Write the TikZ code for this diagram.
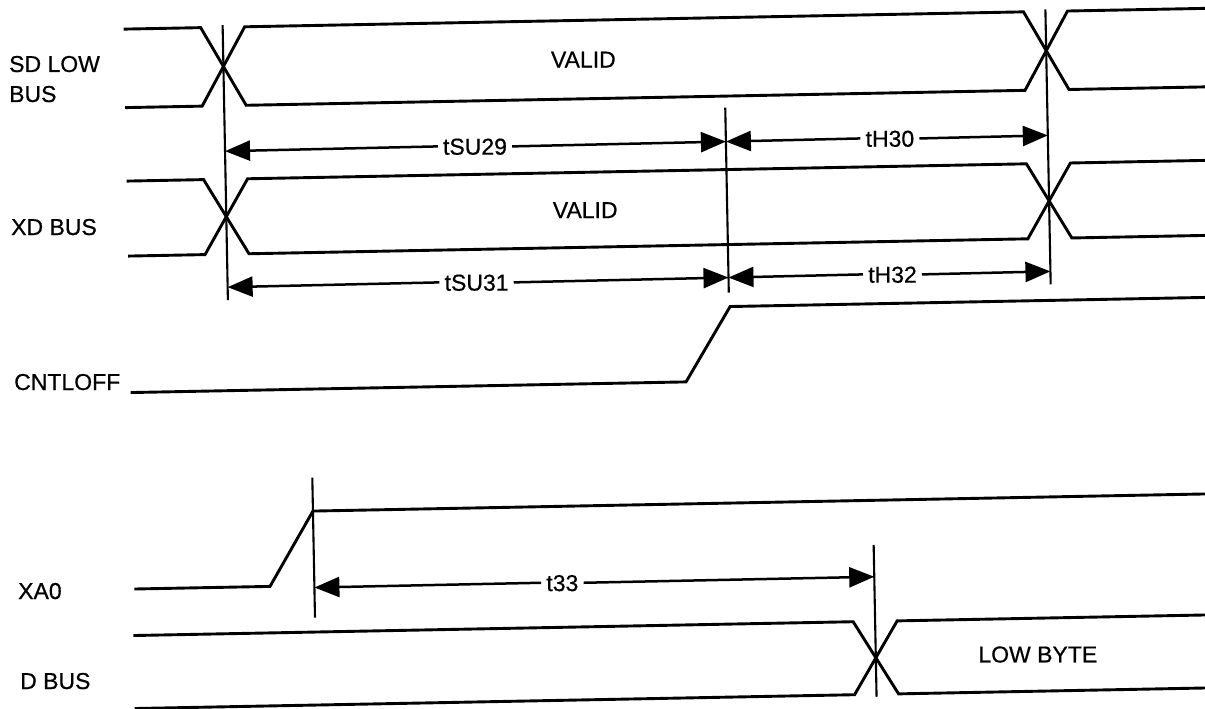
\documentclass[tikz,border=0pt]{standalone}
\usepackage{fontspec}
\setmainfont[BoldFont={Liberation Sans},BoldFeatures={FakeBold=0.6}]{Liberation Sans}
\usetikzlibrary{arrows.meta}
\begin{document}
\begin{tikzpicture}[x=1pt,y=-1pt,
  sig/.style={line width=2.9pt, line join=miter},
  tick/.style={line width=2.1pt},
  dim/.style={line width=2.5pt, -{Triangle[length=25pt,width=20pt]}},
  lab/.style={font=\fontsize{23pt}{27pt}\selectfont\bfseries, inner xsep=5pt, inner ysep=0pt, text height=16.5pt, text depth=0pt},
  sname/.style={font=\fontsize{23pt}{27pt}\selectfont\bfseries, inner sep=0pt, anchor=base west}]
\fill[white] (0,0) rectangle (1205,709);
\useasboundingbox (0,0) rectangle (1205,709);
\clip (0,0) rectangle (1205,709);

% signal names
\node[sname] (sd1) at (9,72) {SD LOW};
\node[sname] (sd2) at (9,102) {BUS};
\node[sname] (xd) at (11,235) {XD BUS};
\node[sname] (cn) at (14,390) {CNTLOFF};
\node[sname] (xa) at (18,599) {XA0};
\node[sname] (db) at (20,689) {D BUS};

\begin{scope}[rotate around={1.1:(602,354)}]
  % vertical reference lines
  \coordinate (v1t) at (229,18);  \coordinate (v1b) at (229,293);
  \coordinate (v2t) at (730,110); \coordinate (v2b) at (730,295);
  \coordinate (v3t) at (1052,18); \coordinate (v3b) at (1052,293);
  \coordinate (v4t) at (310,472); \coordinate (v4b) at (310,612);
  \coordinate (v5t) at (870,550); \coordinate (v5b) at (870,702);
  \draw[tick] (v1t) -- (v1b);
  \draw[tick] (v2t) -- (v2b);
  \draw[tick] (v3t) -- (v3b);
  \draw[tick] (v4t) -- (v4b);
  \draw[tick] (v5t) -- (v5b);

  % SD LOW BUS
  \draw[sig] (130,20) -- (207,20) -- (251,98.5) -- (1030,98.5) -- (1074,20) -- (1230,20);
  \draw[sig] (130,98.5) -- (207,98.5) -- (251,20) -- (1030,20) -- (1074,98.5) -- (1230,98.5);
  \node[lab] (valid1) at (589,59) {VALID};

  % XD BUS
  \draw[sig] (130,172) -- (207,172) -- (251,247) -- (1030,247) -- (1074,172) -- (1230,172);
  \draw[sig] (130,247) -- (207,247) -- (251,172) -- (1030,172) -- (1074,247) -- (1230,247);
  \node[lab] (valid2) at (588,209.5) {VALID};

  % CNTLOFF
  \draw[sig] (130,383.5) -- (685.5,383.5) -- (731,309) -- (1230,309);

  % XA0
  \draw[sig] (130,580) -- (265.6,580) -- (310,505.5) -- (1230,505.5);

  % D BUS
  \draw[sig] (128,626.5) -- (848,626.5) -- (892,699.5) -- (1230,699.5);
  \draw[sig] (128,699.5) -- (848,699.5) -- (892,626.5) -- (1230,626.5);
  \node[lab] (lowbyte) at (1032,662.5) {LOW BYTE};

  % timing dimensions
  \coordinate (a1) at (229,144); \coordinate (a2) at (730,144); \coordinate (a3) at (1052,144);
  \coordinate (b1) at (229,280); \coordinate (b2) at (730,280); \coordinate (b3) at (1052,280);
  \coordinate (c1) at (310,582); \coordinate (c2) at (870,582);

  \node[lab] (tsu29) at (479,144) {tSU29};
  \draw[dim] (tsu29.west) -- (a1);
  \draw[dim] (tsu29.east) -- (a2);
  \node[lab] (th30) at (894,144) {tH30};
  \draw[dim] (th30.west) -- (a2);
  \draw[dim] (th30.east) -- (a3);

  \node[lab] (tsu31) at (478,280) {tSU31};
  \draw[dim] (tsu31.west) -- (b1);
  \draw[dim] (tsu31.east) -- (b2);
  \node[lab] (th32) at (894,280) {tH32};
  \draw[dim] (th32.west) -- (b2);
  \draw[dim] (th32.east) -- (b3);

  \node[lab] (t33) at (558,582) {t33};
  \draw[dim] (t33.west) -- (c1);
  \draw[dim] (t33.east) -- (c2);
\end{scope}
\end{tikzpicture}
\end{document}
